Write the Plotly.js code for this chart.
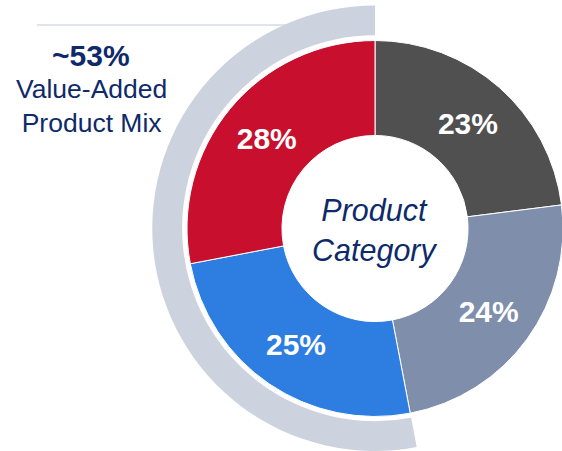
<!DOCTYPE html>
<html>
<head>
<meta charset="utf-8">
<script src="https://cdn.plot.ly/plotly-3.0.1.min.js"></script>
<style>
html, body { margin: 0; padding: 0; overflow: hidden; background: #ffffff; }
#chart { width: 600px; height: 451px; }
</style>
</head>
<body>
<div id="chart"></div>
<script>
// Data
const categories = ['Category 1', 'Category 2', 'Category 3', 'Category 4'];
const shares = [23, 24, 25, 28];
const sliceColors = ['#505050', '#7f8fab', '#2e7de0', '#c8102e'];
const valueAddedLabels = ['Other', 'Value-Added'];
const valueAddedShares = [47, 53];
const valueAddedPct = 53;

const navy = '#0e2a6a';
const font = 'Liberation Sans, Arial, sans-serif';

const arc = {
  type: 'pie',
  labels: valueAddedLabels,
  values: valueAddedShares,
  sort: false,
  direction: 'clockwise',
  rotation: 0,
  hole: 0.866,
  marker: { colors: ['rgba(0,0,0,0)', '#cdd3de'], line: { width: 0 } },
  textinfo: 'none',
  hoverinfo: 'skip',
  showlegend: false,
  domain: { x: [152/600, 598/600], y: [0, 445.5/451] }
};

const donut = {
  type: 'pie',
  labels: categories,
  values: shares,
  sort: false,
  direction: 'clockwise',
  rotation: 0,
  hole: 0.495,
  marker: { colors: sliceColors, line: { color: '#ffffff', width: 1 } },
  texttemplate: '%{value}%',
  textposition: 'inside',
  insidetextorientation: 'horizontal',
  textfont: { family: font, size: 30, color: '#ffffff', weight: 'bold' },
  hoverinfo: 'label+value',
  showlegend: false,
  domain: { x: [187/600, 563/600], y: [34.5/451, 410.5/451] }
};

const layout = {
  width: 600,
  height: 451,
  margin: { l: 0, r: 0, t: 0, b: 0, pad: 0 },
  paper_bgcolor: '#ffffff',
  plot_bgcolor: '#ffffff',
  showlegend: false,
  shapes: [{
    type: 'line', xref: 'paper', yref: 'paper', layer: 'below',
    x0: 37/600, x1: 375/600, y0: 1 - 25/451, y1: 1 - 25/451,
    line: { color: '#d6dce4', width: 1.5 }
  }],
  annotations: [
    {
      xref: 'paper', yref: 'paper', x: 91/600, y: 1 - 55/451,
      xanchor: 'center', yanchor: 'middle', showarrow: false,
      text: '<b>~' + valueAddedPct + '%</b>',
      font: { family: font, size: 30, color: navy }
    },
    {
      xref: 'paper', yref: 'paper', x: 91/600, y: 1 - 106/451,
      xanchor: 'center', yanchor: 'middle', showarrow: false,
      text: 'Value-Added<br>Product Mix',
      font: { family: font, size: 26.5, color: navy }
    },
    {
      xref: 'paper', yref: 'paper', x: 375/600, y: 1 - 230/451,
      xanchor: 'center', yanchor: 'middle', showarrow: false,
      text: '<i>Product<br>Category</i>',
      font: { family: font, size: 30.5, color: navy }
    }
  ]
};

Plotly.newPlot('chart', [arc, donut], layout, { displayModeBar: false, staticPlot: true });
</script>
</body>
</html>
